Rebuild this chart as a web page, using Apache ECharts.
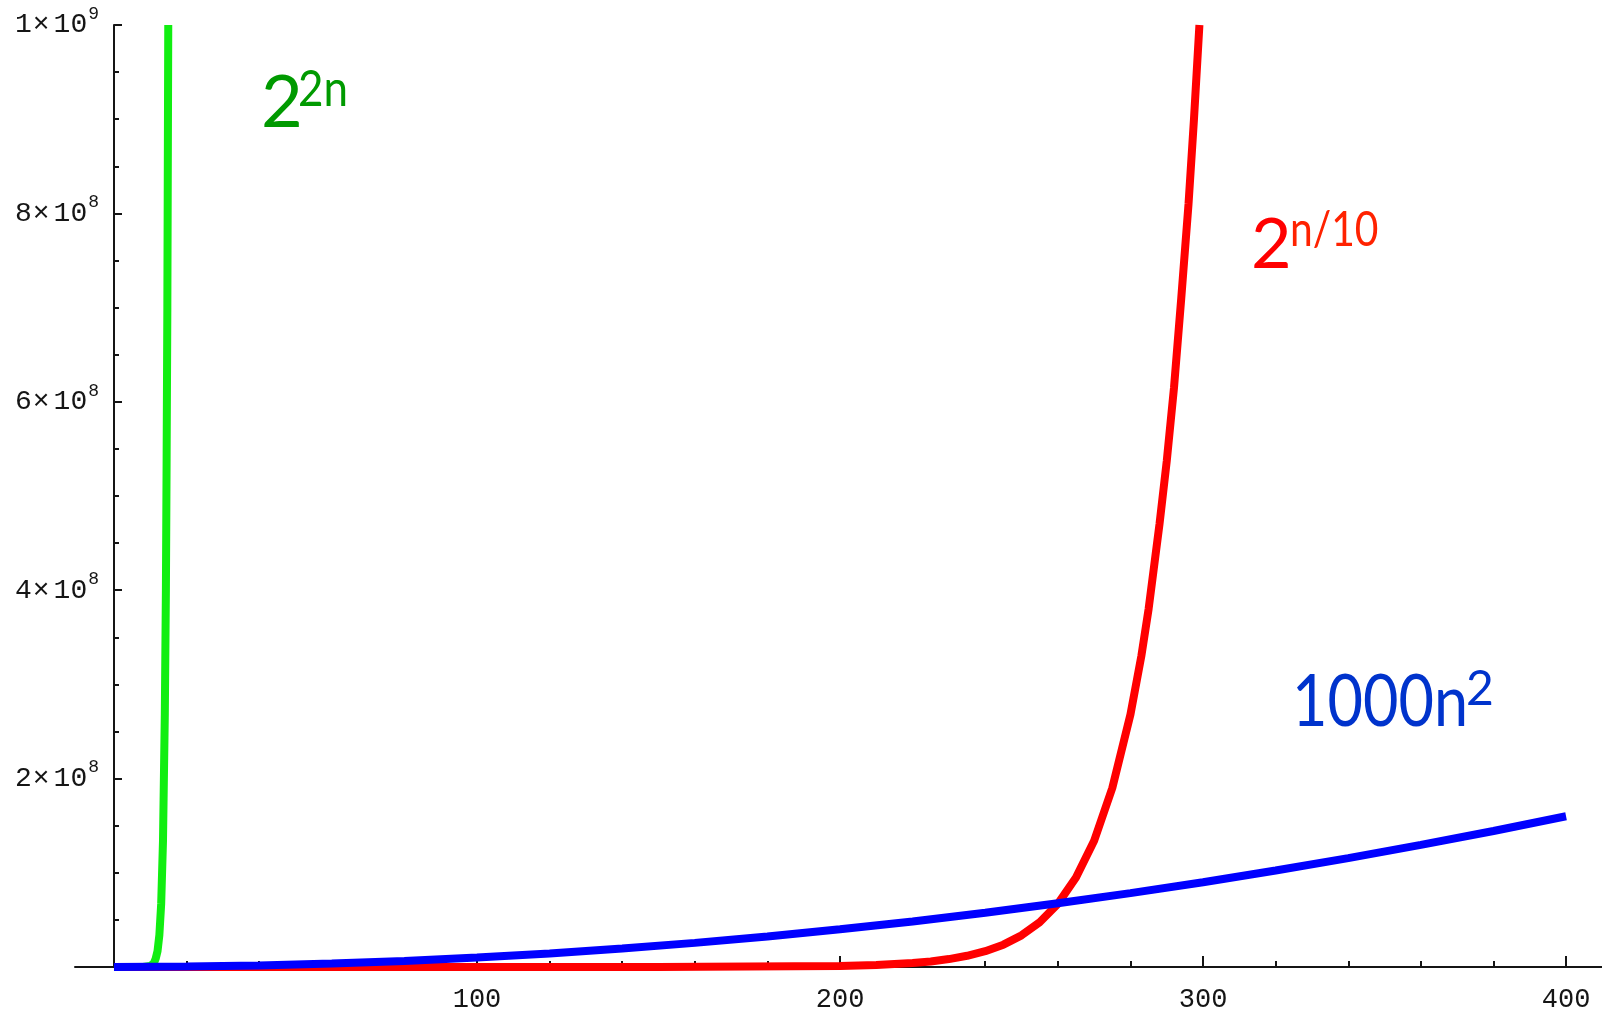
<!DOCTYPE html>
<html>
<head>
<meta charset="utf-8">
<style>
  html, body { margin: 0; padding: 0; background: #ffffff; }
  #chart { width: 1602px; height: 1016px; }
</style>
<script src="https://cdn.jsdelivr.net/npm/echarts@6/dist/echarts.min.js"></script>
</head>
<body>
<div id="chart"></div>
<script>
// ---- data ----
// [n, value]
const greenPoints = [
  [0, 1], [5, 1000], [8, 65000], [10, 1000000], [11, 4200000], [11.5, 9000000],
  [12, 17000000], [12.5, 34000000], [13, 67000000], [13.5, 134000000],
  [14, 268000000], [14.3, 400000000], [14.5, 540000000], [14.7, 700000000],
  [14.8, 820000000], [14.95, 1000000000]
];
const redPoints = [
  [0, 1], [100, 1000], [150, 33000], [200, 1050000], [210, 2100000],
  [220, 4200000], [225, 5900000], [230, 8400000], [235, 11900000],
  [240, 16800000], [245, 23700000], [250, 33600000], [255, 47500000],
  [260, 67000000], [265, 95000000], [270, 134000000], [275, 190000000],
  [280, 268000000], [283, 330000000], [285, 380000000], [288, 470000000],
  [290, 537000000], [292, 615000000], [294, 710000000], [296, 810000000],
  [297.5, 900000000], [299, 1000000000]
];
const bluePoints = [
  [0, 0], [20, 400000], [40, 1600000], [60, 3600000], [80, 6400000],
  [100, 10000000], [120, 14400000], [140, 19600000], [160, 25600000],
  [180, 32400000], [200, 40000000], [220, 48400000], [240, 57600000],
  [260, 67600000], [280, 78400000], [300, 90000000], [320, 102400000],
  [340, 115600000], [360, 129600000], [380, 144400000], [400, 160000000]
];
const xMajorTicks = [100, 200, 300, 400];
const xMinorTicks = [20, 40, 60, 80, 120, 140, 160, 180, 220, 240, 260, 280, 320, 340, 360, 380];
const yTickLabels = { 200000000: ['2', '8'], 400000000: ['4', '8'], 600000000: ['6', '8'], 800000000: ['8', '8'], 1000000000: ['1', '9'] };

const chart = echarts.init(document.getElementById('chart'), null, { renderer: 'canvas' });

const axisColor = '#151515';
const labelFont = '"Liberation Mono", "DejaVu Sans Mono", monospace';
const xMin = -10.74, xMax = 409.9;

const option = {
  animation: false,
  backgroundColor: '#ffffff',
  grid: { left: 75, right: 0, top: 25, bottom: 49, containLabel: false, outerBoundsMode: 'none' },
  xAxis: [
    {
      type: 'value', min: xMin, max: xMax,
      splitLine: { show: false },
      axisLine: { show: true, onZero: true, lineStyle: { color: axisColor, width: 2 } },
      axisTick: { show: true, inside: true, length: 11, customValues: xMajorTicks, lineStyle: { color: axisColor, width: 2 } },
      axisLabel: {
        show: true, customValues: xMajorTicks, margin: 19,
        fontFamily: labelFont, fontSize: 27, color: axisColor
      }
    },
    {
      type: 'value', min: xMin, max: xMax, position: 'bottom',
      splitLine: { show: false },
      axisLine: { show: false },
      axisTick: { show: true, inside: true, length: 6, customValues: xMinorTicks, lineStyle: { color: axisColor, width: 2 } },
      axisLabel: { show: false }
    }
  ],
  yAxis: {
    type: 'value', min: 0, max: 1000000000, interval: 200000000,
    splitLine: { show: false },
    axisLine: { show: true, onZero: true, onZeroAxisIndex: 0, lineStyle: { color: axisColor, width: 2 } },
    axisTick: { show: true, inside: true, length: 8, lineStyle: { color: axisColor, width: 2 } },
    minorTick: { show: true, splitNumber: 4, length: 5, lineStyle: { color: axisColor, width: 2 } },
    axisLabel: {
      show: true, margin: 60, align: 'left',
      formatter: function (v) {
        const t = yTickLabels[v];
        if (!t) return '';
        return '{m|' + t[0] + '}{x|×}{m|10}{e|' + t[1] + '}';
      },
      rich: {
        m: { fontFamily: labelFont, fontSize: 28, lineHeight: 40, color: axisColor, verticalAlign: 'middle' },
        x: { fontFamily: labelFont, fontSize: 28, lineHeight: 40, color: axisColor, padding: [0, 4, 0, 1], verticalAlign: 'middle' },
        e: { fontFamily: labelFont, fontSize: 18, lineHeight: 18, color: axisColor, verticalAlign: 'top', padding: [0, 0, 0, 1] }
      }
    }
  },
  series: [
    {
      name: '2^2n', type: 'line', data: greenPoints, showSymbol: false, symbol: 'none',
      lineStyle: { color: '#11ee11', width: 8 }, z: 2
    },
    {
      name: '2^n/10', type: 'line', data: redPoints, showSymbol: false, symbol: 'none',
      lineStyle: { color: '#ff0000', width: 8 }, z: 3
    },
    {
      name: '1000n^2', type: 'line', data: bluePoints, showSymbol: false, symbol: 'none',
      lineStyle: { color: '#0000ff', width: 8 }, z: 4
    }
  ],
  graphic: [
    { type: 'text', x: 261, y: 104, style: { text: '2', fontFamily: 'Lato', fontSize: 72, fill: '#009a00', verticalAlign: 'middle' } },
    { type: 'text', x: 298, y: 90, scaleX: 0.88, style: { text: '2n', fontFamily: 'Lato', fontSize: 50, fill: '#009a00', verticalAlign: 'middle' } },
    { type: 'text', x: 1251, y: 245, style: { text: '2', fontFamily: 'Lato', fontSize: 70, fill: '#ff0000', verticalAlign: 'middle' } },
    { type: 'text', x: 1290, y: 231, scaleX: 0.85, style: { text: 'n/10', fontFamily: 'Lato', fontSize: 48, fill: '#ff2200', verticalAlign: 'middle' } },
    { type: 'text', x: 1292, y: 703, scaleX: 0.85, style: { text: '1000n', fontFamily: 'Lato', fontSize: 72, fill: '#0033cc', verticalAlign: 'middle' } },
    { type: 'text', x: 1466, y: 690, style: { text: '2', fontFamily: 'Lato', fontSize: 48, fill: '#0033cc', verticalAlign: 'middle' } }
  ]
};
chart.setOption(option);
</script>
</body>
</html>
